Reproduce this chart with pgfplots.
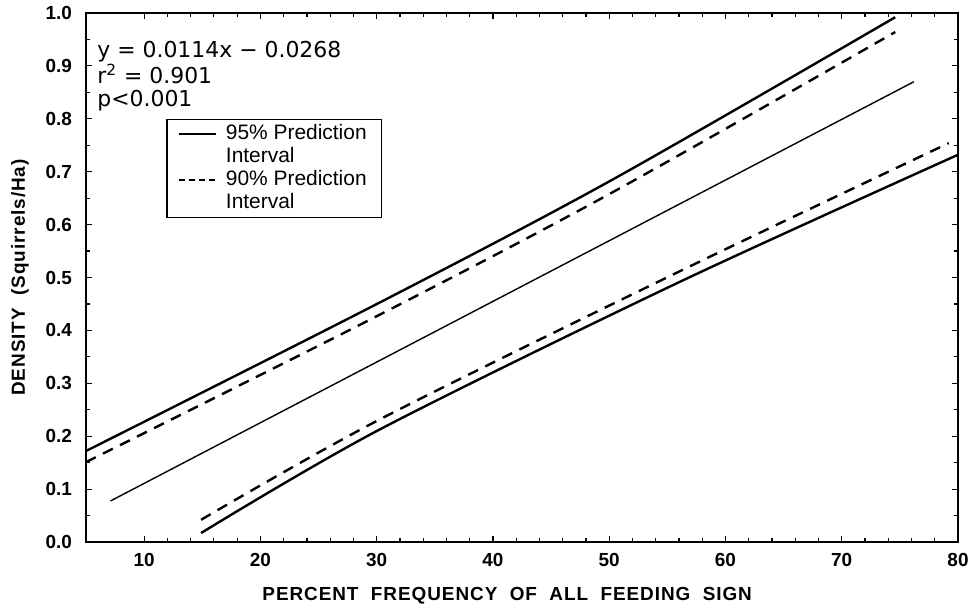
\documentclass[border=0pt]{standalone}
\usepackage{fontspec}
\setmainfont{Liberation Sans}
\newfontfamily\eqfont{DejaVu Sans}
\newfontfamily\labfont{Liberation Sans}[LetterSpace=5.0,WordSpace=2.0]
\usepackage{pgfplots}
\pgfplotsset{compat=1.18}
\usepackage{pgfplotstable}

\pgfplotstableread{
x y
7.1 0.0775
76.2 0.870
}\tabfit
\pgfplotstableread{
x y
5.0 0.172
30.2 0.452
50.2 0.684
74.6 0.992
}\tabupA
\pgfplotstableread{
x y
5.0 0.151
30.2 0.429
50.2 0.660
74.6 0.964
}\tabupB
\pgfplotstableread{
x y
14.9 0.017
30.2 0.212
55.9 0.490
80.0 0.732
}\tablowA
\pgfplotstableread{
x y
14.9 0.042
30.2 0.231
55.9 0.510
79.2 0.754
}\tablowB

\begin{document}
\begin{tikzpicture}
\begin{axis}[
  scale only axis, width=436bp, height=264.5bp,
  xmin=5, xmax=80, ymin=0, ymax=1,
  xtick={10,20,30,40,50,60,70,80},
  xticklabels={10,20,30,40,50,60,70,80},
  ytick={0,0.1,0.2,0.3,0.4,0.5,0.6,0.7,0.8,0.9,1.0},
  yticklabels={0.0,0.1,0.2,0.3,0.4,0.5,0.6,0.7,0.8,0.9,1.0},
  minor x tick num=4, minor y tick num=1,
  major tick length=3bp, minor tick length=2bp,
  tick style={line width=0.6bp, black},
  axis line style={line width=1bp},
  /pgf/number format/assume math mode=true,
  ticklabel style={font=\fontsize{9.5}{10}\selectfont\bfseries},
  yticklabel style={xshift=-3.5bp},
  xticklabel style={yshift=-2bp},
  xlabel={PERCENT FREQUENCY OF ALL FEEDING SIGN},
  ylabel={DENSITY (Squirrels/Ha)},
  xlabel style={at={(axis description cs:0.483,0)}, anchor=north, yshift=-22.5bp, inner sep=0pt, font=\labfont\fontsize{9.5}{10}\selectfont\bfseries},
  ylabel style={at={(axis description cs:-0.0757,0.5)}, anchor=center, inner sep=0pt, font=\labfont\fontsize{9.5}{10}\selectfont\bfseries},
  legend style={at={(0.0917,0.80)}, anchor=north west, draw=black, line width=0.8bp,
    font=\fontsize{10.5}{11}\selectfont, inner xsep=5.5bp, inner ysep=1.5bp, column sep=2.5bp,
    nodes={inner xsep=2bp, inner ysep=0.75bp, text height=7.5bp, text depth=2.5bp}},
  legend cell align=left,
  legend image code/.code={\draw[#1] (0bp,0bp) -- (18.5bp,0bp);},
]
\addplot[forget plot, black, line width=0.7bp] table[x=x,y=y] {\tabfit};
\addplot[forget plot, black, line width=1.2bp, smooth, tension=0.5] table[x=x,y=y] {\tabupA};
\addplot[forget plot, black, line width=1.2bp, dash pattern=on 5.5bp off 4bp, smooth, tension=0.5] table[x=x,y=y] {\tabupB};
\addplot[forget plot, black, line width=1.2bp, smooth, tension=0.5] table[x=x,y=y] {\tablowA};
\addplot[forget plot, black, line width=1.2bp, dash pattern=on 5.5bp off 4bp, smooth, tension=0.5] table[x=x,y=y] {\tablowB};
\addlegendimage{black, line width=1.1bp}
\addlegendentry{95\% Prediction}
\addlegendimage{empty legend}
\addlegendentry{Interval}
\addlegendimage{black, line width=1.1bp, dash pattern=on 3bp off 2bp}
\addlegendentry{90\% Prediction}
\addlegendimage{empty legend}
\addlegendentry{Interval}
\node[anchor=north west, align=left, inner sep=0pt, font=\eqfont\fontsize{11}{11.5}\selectfont] at (rel axis cs:0.0126,0.947) {y = 0.0114x − 0.0268\\r\textsuperscript{2} = 0.901\\p<0.001};
\end{axis}
\pgfresetboundingbox
\path[use as bounding box] (-43bp,-33.5bp) rectangle (445bp,271bp);
\end{tikzpicture}
\end{document}
